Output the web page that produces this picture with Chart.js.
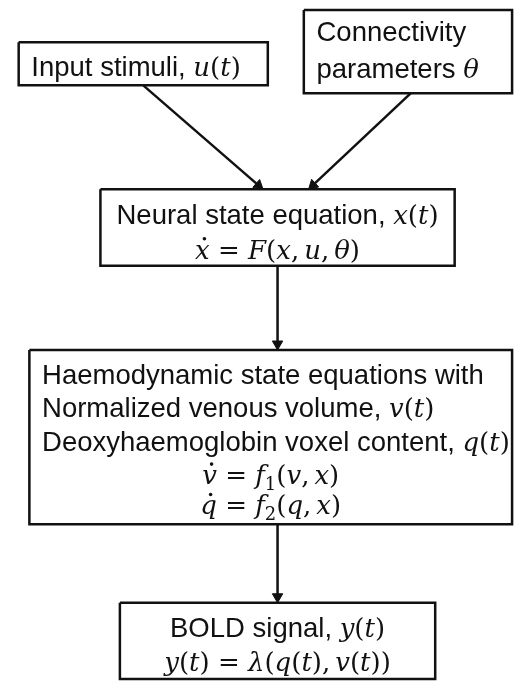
<!DOCTYPE html>
<html lang="en">
<head>
<meta charset="UTF-8">
<title>DCM flow</title>
<script src="https://cdn.jsdelivr.net/npm/chart.js@4.4.0/dist/chart.umd.min.js"></script>
<style>
  html, body { margin: 0; padding: 0; background: #fff; }
  #wrap { width: 522px; height: 689px; position: relative; }
</style>
</head>
<body>
<div id="wrap"><canvas id="flow"></canvas></div>
<script>
// boxes, in page units (y grows downward)
var boxIds    = ['input', 'conn', 'neural', 'haemo', 'bold'];
var boxLeft   = [12, 305, 96, 23, 116];
var boxRight  = [268, 519, 460, 519, 440];
var boxTop    = [36, 3, 186, 350, 608];
var boxBottom = [80, 88, 264, 528, 686];

// box text, $...$ is math
var boxText = [
  ['Input stimuli, $u(t)$'],
  ['Connectivity', 'parameters $θ$'],
  ['Neural state equation, $x(t)$', '$^x = F(x,u,θ)$'],
  ['Haemodynamic state equations with', 'Normalized venous volume, $v(t)$',
   'Deoxyhaemoglobin voxel content, $q(t)$', '$^v = f_1(v,x)$', '$^q = f_2(q,x)$'],
  ['BOLD signal, $y(t)$', '$y(t) = λ(q(t),v(t))$']
];
var textBase  = [[70], [35, 72], [222, 257], [385, 419, 453, 487, 518], [643, 678]];
var textAlign = [['left'], ['left', 'left'], ['center', 'center'],
                 ['left', 'left', 'left', 'center', 'center'], ['center', 'center']];
var textLeft  = [25, 318, 0, 36, 0];

// arrows
var arrowFrom   = ['input', 'conn', 'neural', 'haemo'];
var arrowTo     = ['neural', 'neural', 'haemo', 'bold'];
var arrowStartX = [140, 415, 278, 278];
var arrowEndX   = [263, 310, 278, 278];

var INK = '#111';
var SANS = '27.5px "Liberation Sans", Arial, sans-serif';
var MATH_I = 'italic 26px "DejaVu Serif"';
var MATH_R = '26px "DejaVu Serif"';
var SUB = '18px "DejaVu Serif"';
var HEAD = 6;

function parseRuns(s) {
  var runs = [];
  s.split('$').forEach(function(part, i) {
    if (i % 2 === 0) { if (part) runs.push({t: part, f: SANS}); return; }
    for (var k = 0; k < part.length; k++) {
      var c = part[k];
      if (c === '_') runs.push({t: part[++k], f: SUB, dy: 6});
      else if (c === '^') runs.push({t: part[++k], f: MATH_I, dot: true});
      else if (/[A-Za-zθλ]/.test(c)) runs.push({t: c, f: MATH_I});
      else if (c === ',') runs.push({t: ',', f: MATH_R, after: 5});
      else runs.push({t: c, f: MATH_R});
    }
  });
  return runs;
}

var datasets = [];
boxIds.forEach(function(id, i) {
  datasets.push({
    data: [
      {x: boxLeft[i], y: boxTop[i]}, {x: boxRight[i], y: boxTop[i]},
      {x: boxRight[i], y: boxBottom[i]}, {x: boxLeft[i], y: boxBottom[i]},
      {x: boxLeft[i], y: boxTop[i]}
    ],
    showLine: true, borderColor: INK, borderWidth: 2.5, pointRadius: 0,
    borderJoinStyle: 'miter', clip: false
  });
});
arrowFrom.forEach(function(from, i) {
  var a = boxIds.indexOf(from), b = boxIds.indexOf(arrowTo[i]);
  var x0 = arrowStartX[i], y0 = boxBottom[a];
  var x1 = arrowEndX[i], y1 = boxTop[b];
  var dx = x1 - x0, dy = y1 - y0, len = Math.sqrt(dx * dx + dy * dy);
  datasets.push({
    data: [{x: x0, y: y0}, {x: x1 - dx / len * HEAD, y: y1 - dy / len * HEAD}],
    showLine: true, borderColor: INK, borderWidth: 2.5,
    pointRadius: [0, HEAD], pointStyle: 'triangle',
    pointRotation: Math.atan2(dx, -dy) * 180 / Math.PI,
    pointBackgroundColor: INK, pointBorderColor: INK, pointBorderWidth: 1,
    clip: false
  });
});

var textPlugin = {
  id: 'boxText',
  afterDatasetsDraw: function(chart) {
    var ctx = chart.ctx, xs = chart.scales.x, ys = chart.scales.y;
    ctx.save();
    ctx.fillStyle = INK;
    ctx.textBaseline = 'alphabetic';
    boxText.forEach(function(lines, i) {
      lines.forEach(function(line, j) {
        var runs = parseRuns(line);
        var total = 0;
        runs.forEach(function(r) {
          ctx.font = r.f;
          r.w = ctx.measureText(r.t).width + (r.after || 0);
          total += r.w;
        });
        var x;
        if (textAlign[i][j] === 'center') {
          x = (xs.getPixelForValue(boxLeft[i]) + xs.getPixelForValue(boxRight[i])) / 2 - total / 2;
        } else {
          x = xs.getPixelForValue(textLeft[i]);
        }
        var y = ys.getPixelForValue(textBase[i][j]);
        runs.forEach(function(r) {
          ctx.font = r.f;
          ctx.fillText(r.t, x, y + (r.dy || 0));
          if (r.dot) {
            ctx.beginPath();
            ctx.arc(x + r.w / 2 + 2, y - 20, 1.8, 0, Math.PI * 2);
            ctx.fill();
          }
          x += r.w;
        });
      });
    });
    ctx.restore();
  }
};

new Chart(document.getElementById('flow'), {
  type: 'scatter',
  data: {datasets: datasets},
  options: {
    responsive: true,
    maintainAspectRatio: false,
    animation: false,
    events: [],
    layout: {padding: 0},
    elements: {line: {tension: 0}},
    plugins: {legend: {display: false}, tooltip: {enabled: false}},
    scales: {
      x: {type: 'linear', min: 0, max: 522, display: false},
      y: {type: 'linear', min: 0, max: 689, reverse: true, display: false}
    }
  },
  plugins: [textPlugin]
});
</script>
</body>
</html>
